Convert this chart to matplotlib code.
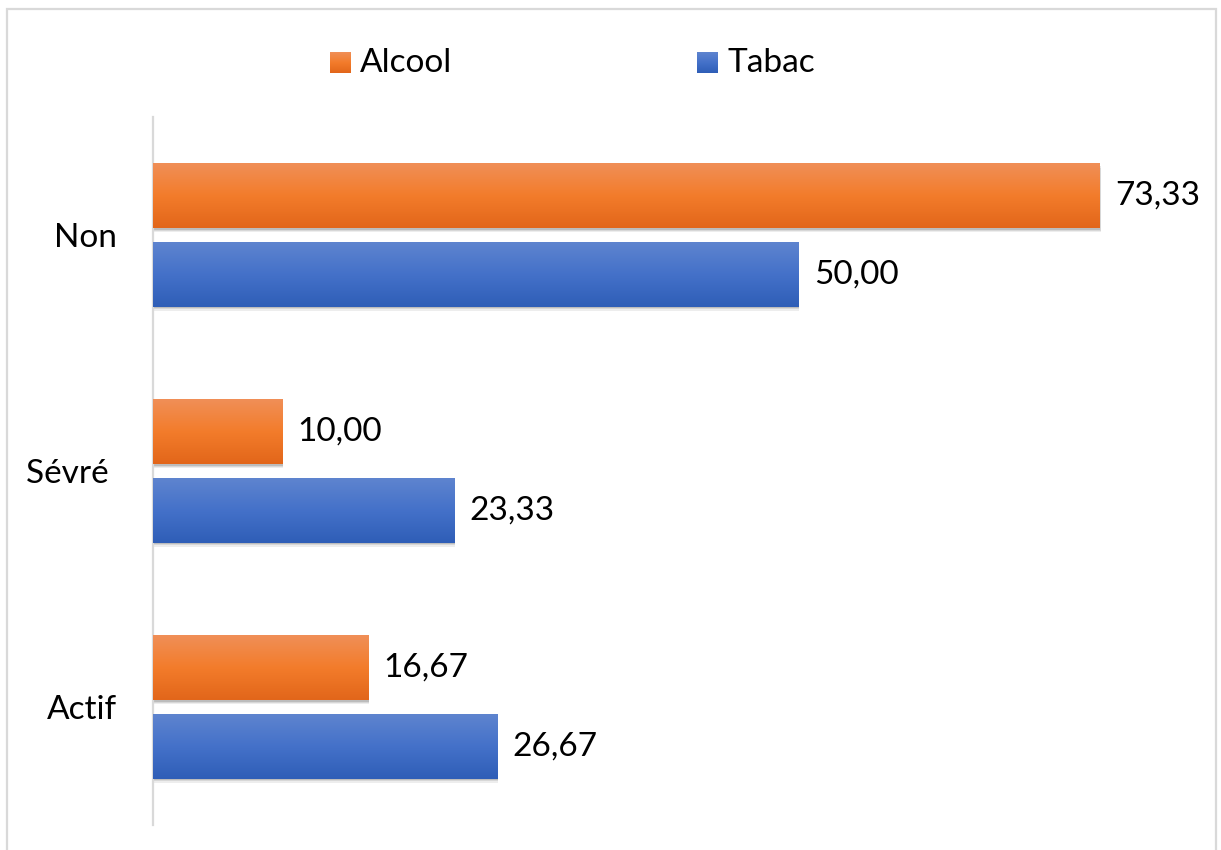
import numpy as np
import matplotlib
matplotlib.use("Agg")
import matplotlib.pyplot as plt
from matplotlib import patheffects as pe
from matplotlib.colors import LinearSegmentedColormap
from matplotlib.patches import Rectangle

# données
categories = ["Non", "Sévré ", "Actif"]
alcool = [73.33, 10.00, 16.67]
tabac = [50.00, 23.33, 26.67]
series_names = ["Alcool", "Tabac"]

plt.rcParams['font.family'] = ['Lato', 'DejaVu Sans']

W, H = 1221, 850
fig = plt.figure(figsize=(W / 100, H / 100), dpi=100)

# cadre gris autour du graphique
fig.patches.append(Rectangle((7 / W, -0.05), (1216 - 7) / W, 1.05 - 9 / H,
                             transform=fig.transFigure, fill=False,
                             edgecolor="#d9d9d9", linewidth=1.6))

ax = fig.add_axes([153 / W, 1 - 825 / H, (1186 - 153) / W, (825 - 117) / H])

y = np.arange(len(categories))
h = 0.274
off = 0.166

grad_orange = LinearSegmentedColormap.from_list("o", ["#f08f57", "#f37c2b", "#e2661a"])
grad_bleu = LinearSegmentedColormap.from_list("b", ["#5e84cf", "#4471c9", "#2f5eb7"])

# ombre floue sous les barres
shadow = [pe.SimplePatchShadow(offset=(0.5, -3), shadow_rgbFace="black", alpha=0.07),
          pe.SimplePatchShadow(offset=(0.5, -2), shadow_rgbFace="black", alpha=0.09),
          pe.SimplePatchShadow(offset=(0.3, -1), shadow_rgbFace="black", alpha=0.12),
          pe.Normal()]

bars_a = ax.barh(y - off, alcool, height=h, color="#e2661a", zorder=2, path_effects=shadow)
bars_t = ax.barh(y + off, tabac, height=h, color="#2f5eb7", zorder=2, path_effects=shadow)

g = np.linspace(0, 1, 100).reshape(-1, 1)
for bars, cmap in [(bars_a, grad_orange), (bars_t, grad_bleu)]:
    for r in bars:
        x0, y0, w, hh = r.get_x(), r.get_y(), r.get_width(), r.get_height()
        ax.imshow(g, cmap=cmap, aspect="auto", origin="upper",
                  extent=[x0, x0 + w, y0 + hh, y0], zorder=3, interpolation="bilinear")

ax.set_xlim(0, 80)
ax.set_ylim(len(categories) - 0.5, -0.5)

for bars, vals in [(bars_a, alcool), (bars_t, tabac)]:
    for r, v in zip(bars, vals):
        ax.annotate(f"{v:.2f}".replace(".", ","),
                    xy=(r.get_width(), r.get_y() + r.get_height() / 2),
                    xytext=(11, 0), textcoords="offset points",
                    va="center", ha="left", fontsize=24, color="black")

ax.set_yticks(y)
ax.set_yticklabels(categories, fontsize=24)
ax.tick_params(axis="y", length=0, pad=26)
ax.set_xticks([])
for s in ["top", "right", "bottom"]:
    ax.spines[s].set_visible(False)
ax.spines["left"].set_color("#d9d9d9")
ax.spines["left"].set_linewidth(1.6)

# légende
leg_items = [(330, "#f37c2b", "#f08f57", "#e2661a"), (697, "#4471c9", "#5e84cf", "#2f5eb7")]
for (lx, c, c1, c2), name in zip(leg_items, series_names):
    lax = fig.add_axes([lx / W, 1 - 73 / H, 21 / W, 21 / H])
    lax.imshow(g, cmap=LinearSegmentedColormap.from_list("l", [c1, c, c2]), aspect="auto")
    lax.axis("off")
    fig.text((lx + 30) / W, 1 - 63 / H, name, fontsize=24, va="center", ha="left")

fig.savefig("out.png", dpi=100, facecolor="white")
